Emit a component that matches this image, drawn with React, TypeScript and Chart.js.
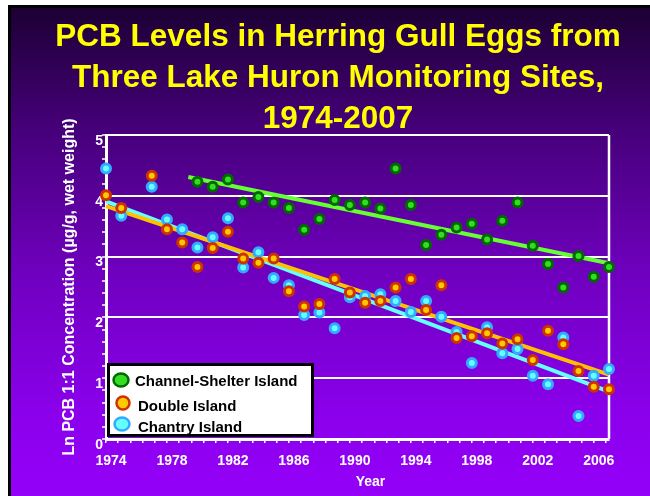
import React, { useEffect, useRef } from "react";
import { Chart, registerables } from "chart.js";

Chart.register(...registerables);

const FONT = "'Liberation Sans', Arial, Helvetica, sans-serif";

const titleLines = [
  "PCB Levels in Herring Gull Eggs from",
  "Three Lake Huron Monitoring Sites,",
  "1974-2007",
];
const yAxisTitle = "Ln PCB 1:1 Concentration (µg/g, wet weight)";
const xAxisTitle = "Year";
const seriesNames = ["Channel-Shelter Island", "Double Island", "Chantry Island"];

const channelShelterYears = [
  1980, 1981, 1982, 1983, 1984, 1985, 1986, 1987, 1988, 1989, 1990, 1991, 1992, 1993,
  1994, 1995, 1996, 1997, 1998, 1999, 2000, 2001, 2002, 2003, 2004, 2005, 2006, 2007,
];
const channelShelterValues = [
  4.23, 4.15, 4.27, 3.89, 3.98, 3.89, 3.8, 3.44, 3.62, 3.93, 3.85, 3.89, 3.79, 4.45,
  3.85, 3.19, 3.36, 3.48, 3.54, 3.28, 3.59, 3.89, 3.18, 2.88, 2.49, 3.01, 2.67, 2.83,
];

const doubleIslandYears = [
  1974, 1975, 1977, 1978, 1979, 1980, 1981, 1982, 1983, 1984, 1985, 1986, 1987, 1988,
  1989, 1990, 1991, 1992, 1993, 1994, 1995, 1996, 1997, 1998, 1999, 2000, 2001, 2002,
  2003, 2004, 2005, 2006, 2007,
];
const doubleIslandValues = [
  4.01, 3.8, 4.33, 3.45, 3.23, 2.83, 3.14, 3.41, 2.97, 2.9, 2.97, 2.43, 2.18, 2.22,
  2.63, 2.41, 2.24, 2.27, 2.49, 2.63, 2.12, 2.53, 1.66, 1.69, 1.74, 1.57, 1.64, 1.3,
  1.78, 1.56, 1.12, 0.86, 0.82,
];

const chantryIslandYears = [
  1974, 1975, 1977, 1978, 1979, 1980, 1981, 1982, 1983, 1984, 1985, 1986, 1987, 1988,
  1989, 1990, 1991, 1992, 1993, 1994, 1995, 1996, 1997, 1998, 1999, 2000, 2001, 2002,
  2003, 2004, 2005, 2006, 2007,
];
const chantryIslandValues = [
  4.45, 3.67, 4.15, 3.61, 3.45, 3.15, 3.32, 3.63, 2.82, 3.07, 2.65, 2.53, 2.04, 2.08,
  1.82, 2.33, 2.35, 2.38, 2.27, 2.09, 2.27, 2.01, 1.76, 1.25, 1.84, 1.41, 1.48, 1.04,
  0.9, 1.67, 0.38, 1.04, 1.15,
];

// trend line end points
const trendChannelShelterYears = [1979.4, 2007];
const trendChannelShelterValues = [4.31, 2.89];
const trendDoubleIslandYears = [1974, 2007];
const trendDoubleIslandValues = [3.83, 1.06];
const trendChantryIslandYears = [1974, 2007];
const trendChantryIslandValues = [3.91, 0.78];

const xTickLabels = [1974, 1978, 1982, 1986, 1990, 1994, 1998, 2002, 2006];
const yTickLabels = [0, 1, 2, 3, 4, 5];
const xMin = 1974;
const xMax = 2007;
const xMinorStep = 0.8;
const yMin = 0;
const yMax = 5;
const yMinorStep = 0.2;

const pts = (xs: number[], ys: number[]) => xs.map((x, i) => ({ x, y: ys[i] }));

const xTickValues: number[] = [];
for (let k = 0; xMin + k * xMinorStep <= xMax + 1e-9; k++) {
  xTickValues.push(Math.round((xMin + k * xMinorStep) * 100) / 100);
}
const yTickValues: number[] = [];
for (let k = 0; yMin + k * yMinorStep <= yMax + 1e-9; k++) {
  yTickValues.push(Math.round((yMin + k * yMinorStep) * 100) / 100);
}

const near = (a: number, b: number) => Math.abs(a - b) < 1e-6;

const pointStyles = [
  { fill: "#33dd22", stroke: "#006a00" },
  { fill: "#ffc800", stroke: "#cc3300" },
  { fill: "#66ffff", stroke: "#33aaff" },
];
const trendColors = ["#66ff33", "#ffc000", "#66ffff"];

const boxLegend = {
  id: "boxLegend",
  afterDraw(chart: any) {
    const { ctx, chartArea } = chart;
    const left = chartArea.left + 1;
    const bottom = chartArea.bottom - 2;
    const w = 207;
    const h = 74;
    const top = bottom - h;
    ctx.save();
    ctx.fillStyle = "#ffffff";
    ctx.fillRect(left, top, w, h);
    ctx.lineWidth = 3;
    ctx.strokeStyle = "#000000";
    ctx.strokeRect(left + 1.5, top + 1.5, w - 3, h - 3);
    const rows = [
      { my: top + 17, ty: top + 19, mx: left + 14, tx: left + 28, rx: 7.5, ry: 6.5 },
      { my: top + 40, ty: top + 44, mx: left + 16, tx: left + 31, rx: 6.5, ry: 6.5 },
      { my: top + 61, ty: top + 65, mx: left + 15, tx: left + 31, rx: 7.5, ry: 6.5 },
    ];
    rows.forEach((r, i) => {
      ctx.beginPath();
      ctx.ellipse(r.mx, r.my, r.rx, r.ry, 0, 0, Math.PI * 2);
      ctx.fillStyle = pointStyles[i].fill;
      ctx.fill();
      ctx.lineWidth = 2.5;
      ctx.strokeStyle = pointStyles[i].stroke;
      ctx.stroke();
      ctx.fillStyle = "#000000";
      ctx.font = `bold 15px ${FONT}`;
      ctx.textBaseline = "middle";
      ctx.textAlign = "left";
      ctx.fillText(seriesNames[i], r.tx, r.ty);
    });
    ctx.restore();
  },
};

const rightBorder = {
  id: "rightBorder",
  beforeDatasetsDraw(chart: any) {
    const { ctx, chartArea } = chart;
    ctx.save();
    ctx.strokeStyle = "#ffffff";
    ctx.lineWidth = 2.5;
    ctx.beginPath();
    ctx.moveTo(chartArea.right, chartArea.top);
    ctx.lineTo(chartArea.right, chartArea.bottom);
    ctx.stroke();
    ctx.restore();
  },
};

// the reference sets the x-axis title a little right of the plot centre
const shiftXTitle = {
  id: "shiftXTitle",
  afterLayout(chart: any) {
    const s = chart.scales.x;
    if (!s || s.__shifted) return;
    const orig = s.drawTitle;
    s.drawTitle = function (...args: any[]) {
      this.ctx.save();
      this.ctx.translate(13, 0);
      orig.apply(this, args);
      this.ctx.restore();
    };
    s.__shifted = true;
  },
};

export default function App() {
  const ref = useRef<HTMLCanvasElement>(null);

  useEffect(() => {
    if (!ref.current) return;
    const scatterSet = (i: number, xs: number[], ys: number[]) => ({
      type: "scatter" as const,
      label: seriesNames[i],
      data: pts(xs, ys),
      pointRadius: 4.5,
      pointBorderWidth: 3,
      pointBackgroundColor: pointStyles[i].fill,
      pointBorderColor: pointStyles[i].stroke,
      backgroundColor: pointStyles[i].fill,
      borderColor: pointStyles[i].stroke,
      showLine: false,
      clip: false as any,
      order: 0,
    });
    const trendSet = (i: number, xs: number[], ys: number[]) => ({
      type: "line" as const,
      label: seriesNames[i] + " trend",
      data: pts(xs, ys),
      borderColor: trendColors[i],
      borderWidth: 4,
      pointRadius: 0,
      fill: false,
      tension: 0,
      clip: false as any,
      order: 1,
    });

    const chart = new Chart(ref.current, {
      type: "scatter",
      data: {
        datasets: [
          scatterSet(0, channelShelterYears, channelShelterValues),
          scatterSet(1, doubleIslandYears, doubleIslandValues),
          scatterSet(2, chantryIslandYears, chantryIslandValues),
          trendSet(0, trendChannelShelterYears, trendChannelShelterValues),
          trendSet(1, trendDoubleIslandYears, trendDoubleIslandValues),
          trendSet(2, trendChantryIslandYears, trendChantryIslandValues),
        ] as any,
      },
      options: {
        animation: false,
        responsive: false,
        maintainAspectRatio: false,
        events: [],
        layout: { padding: { left: 40, right: 25, top: 0, bottom: 0 } },
        plugins: {
          legend: { display: false },
          tooltip: { enabled: false },
          title: {
            display: true,
            text: titleLines,
            color: "#ffff00",
            font: { family: FONT, size: 31.5, weight: "bold", lineHeight: 41 / 31.5 },
            padding: { top: 9, bottom: -5 },
          },
        },
        scales: {
          x: {
            type: "linear",
            min: xMin,
            max: xMax,
            afterFit: (s: any) => {
              s.height = 57;
            },
            afterBuildTicks: (s: any) => {
              s.ticks = xTickValues.map((v) => ({ value: v }));
            },
            ticks: {
              autoSkip: false,
              maxRotation: 0,
              minRotation: 0,
              color: "#ffffff",
              font: { family: FONT, size: 14, weight: "bold" },
              padding: 10,
              labelOffset: 5,
              callback: (v: any) => {
                const val = Number(v);
                return xTickLabels.some((t) => near(t, val)) ? String(Math.round(val)) : "";
              },
            },
            grid: {
              drawOnChartArea: false,
              drawTicks: true,
              color: "#ffffff",
              tickColor: "#ffffff",
              tickLength: 4,
              lineWidth: 1.5,
              tickWidth: 1.5,
            },
            border: { display: true, color: "#ffffff", width: 3 },
            title: {
              display: true,
              text: xAxisTitle,
              color: "#ffffff",
              font: { family: FONT, size: 14, weight: "bold" },
              padding: { top: 0, bottom: 5 },
            },
          } as any,
          y: {
            type: "linear",
            min: yMin,
            max: yMax,
            afterFit: (s: any) => {
              s.width = 55;
            },
            afterBuildTicks: (s: any) => {
              s.ticks = yTickValues.map((v) => ({ value: v }));
            },
            ticks: {
              autoSkip: false,
              color: "#ffffff",
              font: { family: FONT, size: 14, weight: "bold" },
              padding: -1,
              labelOffset: 6,
              callback: (v: any) => {
                const val = Number(v);
                return yTickLabels.some((t) => near(t, val)) ? String(Math.round(val)) : "";
              },
            },
            grid: {
              drawOnChartArea: true,
              drawTicks: true,
              color: (ctx: any) => {
                const val = ctx.tick ? ctx.tick.value : NaN;
                return yTickLabels.some((t) => near(t, val)) ? "#ffffff" : "rgba(0,0,0,0)";
              },
              tickColor: "#ffffff",
              tickLength: 4,
              lineWidth: 2,
              tickWidth: 1.5,
            },
            border: { display: true, color: "#ffffff", width: 3 },
            title: {
              display: true,
              text: yAxisTitle,
              color: "#ffffff",
              font: { family: FONT, size: 16, weight: "bold" },
              padding: { top: 8.5, bottom: 0 },
            },
          } as any,
          ySpacer: {
            type: "linear",
            position: "right",
            display: true,
            min: yMin,
            max: yMax,
            afterFit: (s: any) => {
              s.width = 16;
            },
            ticks: { display: false },
            grid: { display: false, drawOnChartArea: false, drawTicks: false },
            border: { display: false },
            title: { display: false },
          } as any,
        },
      },
      plugins: [rightBorder, boxLegend, shiftXTitle],
    });
    return () => chart.destroy();
  }, []);

  return (
    <div
      style={{
        position: "absolute",
        left: 8,
        top: 5,
        width: 639,
        height: 488,
        borderLeft: "3px solid #000000",
        borderTop: "3px solid #000000",
        background:
          "linear-gradient(to bottom, #1c0034 0%, #46007a 25%, #7000c0 55%, #8c00ee 85%, #9400f8 100%)",
      }}
    >
      <canvas ref={ref} width={639} height={488} style={{ display: "block", width: 639, height: 488 }} />
    </div>
  );
}
